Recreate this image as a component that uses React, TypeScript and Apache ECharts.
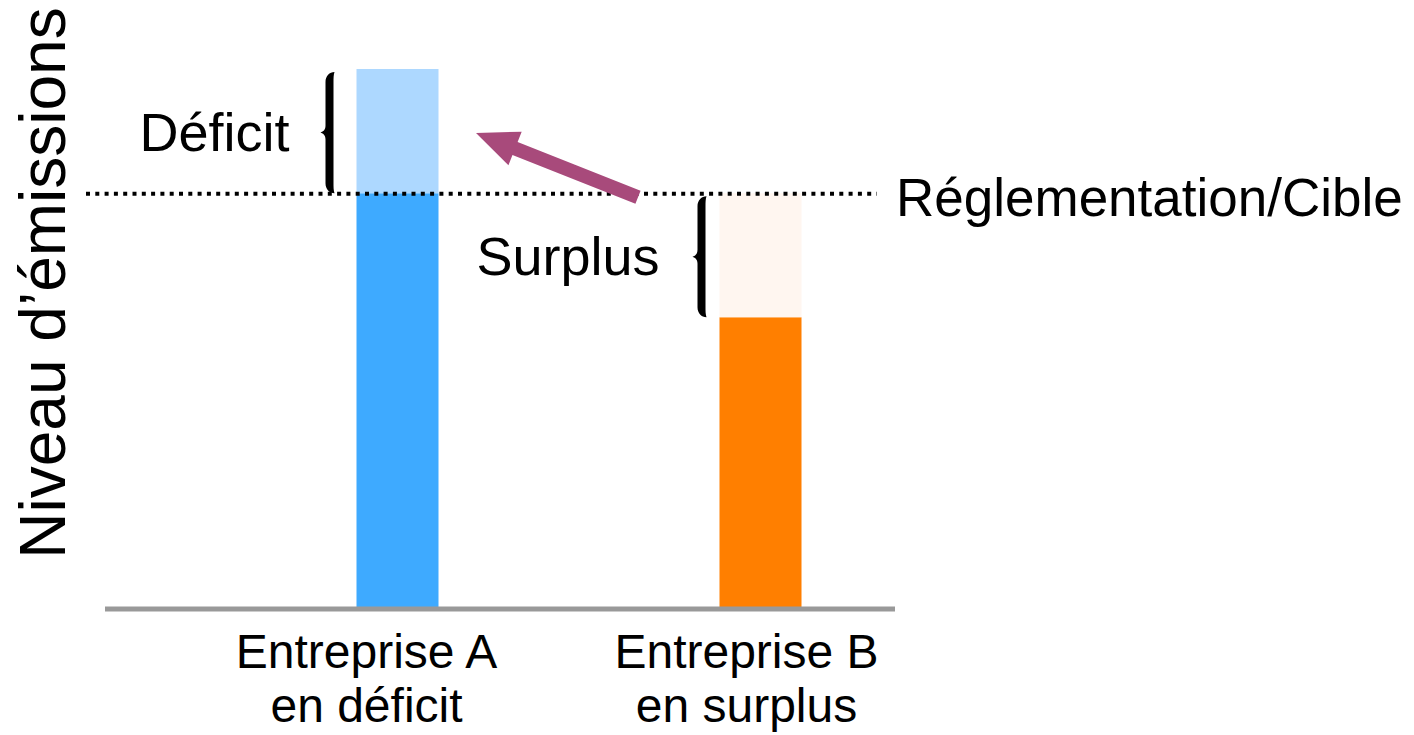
import React, { useEffect, useRef } from "react";
import * as echarts from "echarts";

// ---- Data ----
const categories = ["Entreprise A\nen déficit", "Entreprise B\nen surplus"];
const emissions = [130, 70];
const targetLevel = 100;
const baseColors = ["#3EAAFF", "#FF7F00"];
const gapColors = ["#ADD8FF", "#FFF6F0"];
const gapLabels = ["Déficit", "Surplus"];
const yAxisTitle = "Niveau d’émissions";
const targetTitle = "Réglementation/Cible";

const FONT = "'Liberation Sans', Arial, Helvetica, sans-serif";

// filled curly brace, 14 px wide, h px tall, point on the left at mid-height
function bracePath(h: number): string {
  const m = h / 2;
  return (
    `M14,0 C9,0 5,4 5,10 L5,${m - 7} C5,${m - 3} 3,${m - 1} 0,${m} ` +
    `C3,${m + 1} 5,${m + 3} 5,${m + 7} L5,${h - 10} C5,${h - 4} 9,${h} 14,${h} ` +
    `C13,${h - 3} 13,${h - 6} 13,${h - 10} L13,10 C13,6 13,3 14,0 Z`
  );
}

export default function App() {
  const ref = useRef<HTMLDivElement>(null);

  useEffect(() => {
    if (!ref.current) return;
    const chart = echarts.init(ref.current, null, { renderer: "svg" });
    const baseVals = emissions.map((e) => Math.min(e, targetLevel));
    const gapVals = emissions.map((e) => Math.abs(e - targetLevel));
    const yMax = Math.max(...emissions);

    chart.setOption({
      animation: false,
      grid: { left: 216, right: 472, top: 69, bottom: 128 },
      xAxis: {
        type: "category",
        data: categories,
        axisLine: { show: false },
        axisTick: { show: false },
        axisLabel: {
          margin: 17,
          interval: 0,
          formatter: (v: string, i: number) => `{c${i}|${v}}`,
          rich: {
            c0: { fontSize: 48, lineHeight: 54, color: "#000", fontFamily: FONT, padding: [0, 62, 0, 0] },
            c1: { fontSize: 48, lineHeight: 54, color: "#000", fontFamily: FONT, padding: [0, 28, 0, 0] },
          },
        },
      },
      yAxis: { type: "value", min: 0, max: yMax, show: false },
      series: [
        {
          type: "bar",
          name: "Émissions jusqu’à la cible",
          stack: "e",
          barWidth: 82,
          data: baseVals.map((v, i) => ({ value: v, itemStyle: { color: baseColors[i] } })),
        },
        {
          type: "bar",
          name: "Écart à la cible",
          stack: "e",
          barWidth: 82,
          data: gapVals.map((v, i) => ({ value: v, itemStyle: { color: gapColors[i] } })),
        },
      ],
    });

    const px = (x: number, y: number) => chart.convertToPixel({ gridIndex: 0 }, [x, y]) as number[];
    const y0 = px(0, 0)[1];
    const yT = px(0, targetLevel)[1];

    // annotation layout offsets (pixels from each bar's left edge)
    const braceGap = [22, 13];
    const textGap = [67, 60];

    const graphics: any[] = [];
    graphics.push({
      type: "line",
      z: 10,
      shape: { x1: 105, y1: y0 + 2, x2: 895, y2: y0 + 2 },
      style: { stroke: "#999999", lineWidth: 5 },
    });
    graphics.push({
      type: "line",
      z: 10,
      shape: { x1: 86, y1: yT + 0.5, x2: 877, y2: yT + 0.5 },
      style: { stroke: "#000", lineWidth: 4, lineDash: [4, 5.3] },
    });
    graphics.push({
      type: "text",
      z: 10,
      x: 896,
      y: yT + 4,
      style: { text: targetTitle, fontSize: 53, fontFamily: FONT, fill: "#000", align: "left", verticalAlign: "middle" },
    });
    graphics.push({
      type: "text",
      z: 10,
      x: 43,
      y: 283,
      rotation: Math.PI / 2,
      style: { text: yAxisTitle, fontSize: 64, fontFamily: FONT, fill: "#000", align: "center", verticalAlign: "middle" },
    });

    emissions.forEach((e, i) => {
      const cx = px(i, 0)[0];
      const barLeft = cx - 41;
      const top = px(i, Math.max(e, targetLevel))[1];
      const bot = px(i, Math.min(e, targetLevel))[1];
      const h = bot - top - 3;
      const name = `brace${i}`;
      echarts.graphic.registerShape(name, echarts.graphic.extendPath(bracePath(h), {}));
      graphics.push({
        type: name,
        z: 10,
        x: barLeft - braceGap[i] - 14,
        y: top + 3,
        style: { fill: "#000" },
      });
      graphics.push({
        type: "text",
        z: 10,
        x: barLeft - textGap[i],
        y: (top + bot) / 2 + 1,
        style: { text: gapLabels[i], fontSize: 54, fontFamily: FONT, fill: "#000", align: "right", verticalAlign: "middle" },
      });
    });

    // transfer arrow (from surplus company towards deficit company)
    const tip = [476, 133];
    const tail = [638, yT + 4];
    const dx = tip[0] - tail[0];
    const dy = tip[1] - tail[1];
    const len = Math.hypot(dx, dy);
    const ux = dx / len, uy = dy / len;
    const nx = -uy, ny = ux;
    const headLen = 42, headHalf = 18, shaftHalf = 7;
    const hx = tip[0] - headLen * ux, hy = tip[1] - headLen * uy;
    const points = [
      tip,
      [hx + headHalf * nx, hy + headHalf * ny],
      [hx + shaftHalf * nx, hy + shaftHalf * ny],
      [tail[0] + shaftHalf * nx, tail[1] + shaftHalf * ny],
      [tail[0] - shaftHalf * nx, tail[1] - shaftHalf * ny],
      [hx - shaftHalf * nx, hy - shaftHalf * ny],
      [hx - headHalf * nx, hy - headHalf * ny],
    ];
    graphics.push({
      type: "polygon",
      z: 11,
      shape: { points },
      style: { fill: "#A84A7B" },
    });

    chart.setOption({ graphic: graphics });

    return () => chart.dispose();
  }, []);

  return (
    <div
      ref={ref}
      style={{ position: "fixed", left: 0, top: 0, width: 1414, height: 735, background: "#fff" }}
    />
  );
}
